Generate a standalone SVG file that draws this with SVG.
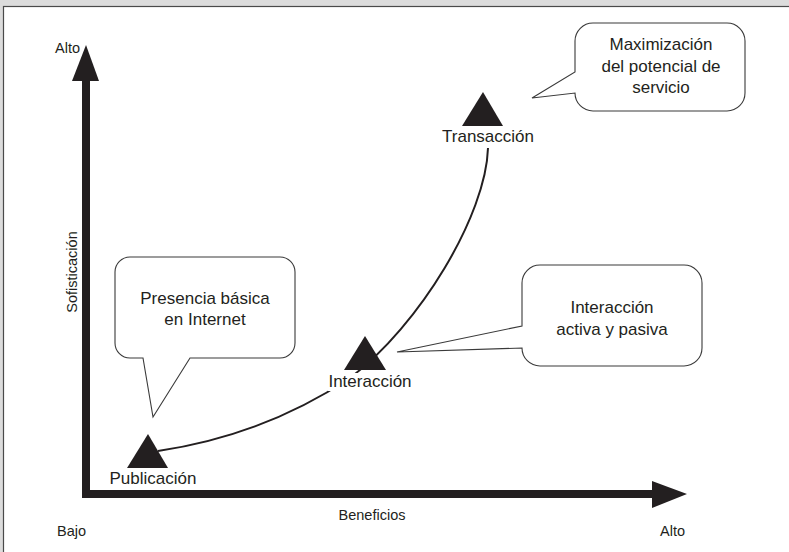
<svg xmlns="http://www.w3.org/2000/svg" width="789" height="552" viewBox="0 0 789 552">
  <style>
    text { font-family: "Liberation Sans", Arial, sans-serif; fill: #231f20; }
    .lbl { font-size: 17px; text-anchor: middle; }
    .ax { font-size: 14.5px; }
    .mark { fill: #231f20; }
    .bubble { fill: #ffffff; stroke: #3a3a3a; stroke-width: 1.1; }
    .curve { fill: none; stroke: #231f20; stroke-width: 2; }
  </style>

  <!-- page frame -->
  <rect x="0" y="0" width="789" height="552" fill="#dcdcdc"/>
  <rect x="3.5" y="6.5" width="790" height="550" fill="#ffffff" stroke="#4a4a4a" stroke-width="1.2"/>

  <!-- axes -->
  <g id="axes">
    <rect class="mark" x="82" y="78" width="8" height="420"/>
    <polygon class="mark" points="86,45 99,81 72,81"/>
    <rect class="mark" x="82" y="490" width="573" height="8"/>
    <polygon class="mark" points="687,494 652,481 652,508"/>
    <text class="ax" x="55" y="53" font-size="12">Alto</text>
    <text class="ax" x="77" y="272" text-anchor="middle" transform="rotate(-90 77 272)">Sofisticación</text>
    <text class="ax" x="57" y="536">Bajo</text>
    <text class="ax" x="372" y="520" text-anchor="middle">Beneficios</text>
    <text class="ax" x="660" y="536">Alto</text>
  </g>

  <!-- connectors -->
  <g id="connectors">
    <path class="curve" d="M158,451 C225,441 290,418 350,378 C420,325 486,215 488,148"/>
  </g>

  <!-- stage nodes -->
  <g id="publicacion">
    <polygon class="mark" points="148,434 168,468 127,468"/>
    <text class="lbl" x="153" y="484">Publicación</text>
  </g>
  <g id="interaccion">
    <polygon class="mark" points="365,336 386,370 344,370"/>
    <rect x="328" y="373" width="85" height="18" fill="#ffffff"/>
    <text class="lbl" x="370" y="387">Interacción</text>
  </g>
  <g id="transaccion">
    <polygon class="mark" points="483,92 503,126 462,126"/>
    <text class="lbl" x="488" y="142">Transacción</text>
  </g>

  <!-- callouts -->
  <g id="callout-presencia">
    <path class="bubble" d="M130,257 H280 A15,15 0 0 1 295,272 V343 A15,15 0 0 1 280,358 H190 L153,417 L143,358 H130 A15,15 0 0 1 115,343 V272 A15,15 0 0 1 130,257 Z"/>
    <text class="lbl" x="205" y="304">Presencia básica</text>
    <text class="lbl" x="205" y="325">en Internet</text>
  </g>
  <g id="callout-interaccion">
    <path class="bubble" d="M540,265 H684 A18,18 0 0 1 702,283 V348 A18,18 0 0 1 684,366 H540 A18,18 0 0 1 522,348 L397,352 L522,326 V283 A18,18 0 0 1 540,265 Z"/>
    <text class="lbl" x="612" y="313">Interacción</text>
    <text class="lbl" x="612" y="335">activa y pasiva</text>
  </g>
  <g id="callout-maximizacion">
    <path class="bubble" d="M593,23 H727 A18,18 0 0 1 745,41 V93 A18,18 0 0 1 727,111 H593 A18,18 0 0 1 575,93 L532,98 L575,72 V41 A18,18 0 0 1 593,23 Z"/>
    <text class="lbl" x="661" y="50">Maximización</text>
    <text class="lbl" x="661" y="72">del potencial de</text>
    <text class="lbl" x="661" y="93">servicio</text>
  </g>
</svg>
